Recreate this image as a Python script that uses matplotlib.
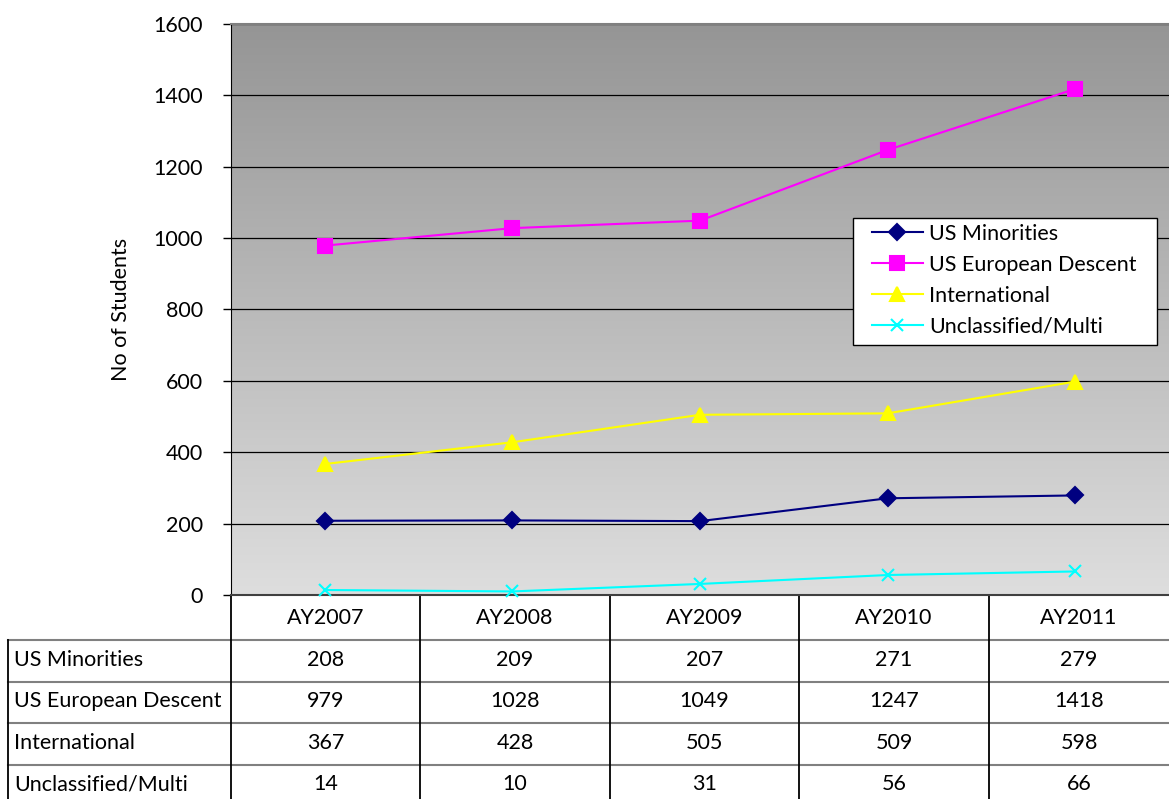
import numpy as np
import matplotlib
matplotlib.use('Agg')
import matplotlib.pyplot as plt
from matplotlib.colors import LinearSegmentedColormap
from matplotlib.patches import Rectangle

plt.rcParams['font.family'] = ['Lato', 'DejaVu Sans']

# data
years = ['AY2007', 'AY2008', 'AY2009', 'AY2010', 'AY2011']
series_names = ['US Minorities', 'US European Descent', 'International', 'Unclassified/Multi']
us_minorities = [208, 209, 207, 271, 279]
us_european = [979, 1028, 1049, 1247, 1418]
international = [367, 428, 505, 509, 598]
unclassified = [14, 10, 31, 56, 66]
all_vals = [us_minorities, us_european, international, unclassified]

colors = ['#000080', '#ff00ff', '#ffff00', '#00ffff']
markers = ['D', 's', '^', 'x']
msizes = [8, 10, 10, 9]

W, H = 1169, 799
fig = plt.figure(figsize=(W / 100, H / 100), dpi=100)
ax = fig.add_axes([231 / W, 1 - 595 / H, 938 / W, 571 / H])

def px(xp, yp):
    # pixel position -> axes coordinates
    return (xp - 231) / 938, (595 - yp) / 571

# gradient background of plot area
cmap = LinearSegmentedColormap.from_list('bg', ['#dedede', '#959595'])
ax.imshow(np.linspace(0, 1, 256).reshape(-1, 1), extent=[0, 1, 0, 1],
          transform=ax.transAxes, aspect='auto', cmap=cmap, origin='lower', zorder=0)

x = np.arange(len(years))
for name, vals, c, m, ms in zip(series_names, all_vals, colors, markers, msizes):
    ax.plot(x, vals, color=c, marker=m, markersize=ms, markeredgecolor=c,
            markeredgewidth=1.5, lw=1.5, label=name, zorder=3, clip_on=False)

ax.set_xlim(-0.5, len(years) - 0.5)
ax.set_ylim(0, 1600)
ax.set_yticks(np.arange(0, 1601, 200))
ax.set_xticks([])
ax.yaxis.grid(True, color='black', lw=0.9)
ax.set_axisbelow(True)
ax.tick_params(axis='y', labelsize=15.5, length=6, width=1, direction='out', pad=14)

ax.spines['left'].set_color('black')
ax.spines['bottom'].set_color('#404040')
ax.spines['bottom'].set_linewidth(1.5)
ax.spines['top'].set_color('#808080')
ax.spines['top'].set_linewidth(1.5)
ax.spines['right'].set_visible(False)

ax.set_ylabel('No of Students', fontsize=15.5)
ax.yaxis.set_label_coords(-0.107, 0.5)

# legend: white box drawn separately, entries without frame
bx0, by0 = px(853, 345)
bx1, by1 = px(1157, 218)
ax.add_patch(Rectangle((bx0, by0), bx1 - bx0, by1 - by0, transform=ax.transAxes,
                       facecolor='white', edgecolor='black', lw=1.0, zorder=5))
leg = ax.legend(loc='upper left', bbox_to_anchor=px(872, 224), fontsize=15.5,
                frameon=False, handlelength=2.35, handletextpad=0.3,
                labelspacing=0.5, borderpad=0, borderaxespad=0)
leg.set_zorder(6)

# data table under the chart
col_edges = [231, 420, 610, 799, 989, 1169]
row_edges = [595, 640, 681.5, 723, 764.5, 806]
label_left = 8
kw = dict(transform=ax.transAxes, clip_on=False)
for j, yr in enumerate(years):
    cx, cy = px((col_edges[j] + col_edges[j + 1]) / 2, (row_edges[0] + row_edges[1]) / 2)
    ax.text(cx, cy, yr, ha='center', va='center', fontsize=15.5, **kw)
for i, (name, vals) in enumerate(zip(series_names, all_vals)):
    ymid = (row_edges[i + 1] + row_edges[i + 2]) / 2 - 1
    lx, ly = px(label_left + 6, ymid)
    ax.text(lx, ly, name, ha='left', va='center', fontsize=15.5, **kw)
    for j, v in enumerate(vals):
        cx, cy = px((col_edges[j] + col_edges[j + 1]) / 2, ymid)
        ax.text(cx, cy, str(v), ha='center', va='center', fontsize=15.5, **kw)

# table rules: grey horizontals, black verticals
for r in row_edges[1:-1]:
    (xa, ya), (xb, _) = px(label_left, r), px(W, r)
    ax.plot([xa, xb], [ya, ya], color='#808080', lw=1.5, **kw)
for c in col_edges[:-1]:
    (xa, ya), (_, yb) = px(c, 595), px(c, H)
    ax.plot([xa, xa], [ya, yb], color='black', lw=1.3, **kw)
(xa, ya), (_, yb) = px(label_left, row_edges[1]), px(label_left, H)
ax.plot([xa, xa], [ya, yb], color='black', lw=1.3, **kw)

fig.savefig('out.png', dpi=100)
